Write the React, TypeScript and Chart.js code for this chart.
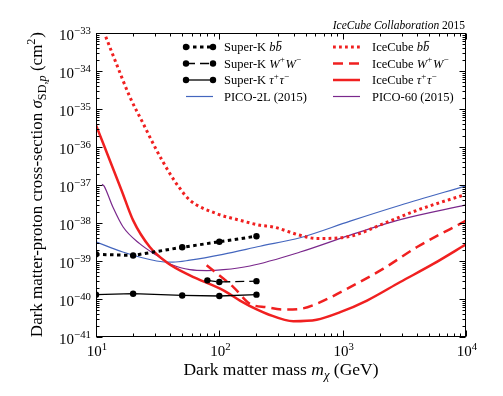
import React, { useEffect, useRef } from 'react';
import { Chart, registerables } from 'chart.js';

Chart.register(...registerables);

// ---------- data ----------
const xTickExps = [1, 2, 3, 4];
const yTickExps = [-33, -34, -35, -36, -37, -38, -39, -40, -41];

const skMass = [10, 20, 50, 100, 200];
const skBB = [1.5e-39, 1.4e-39, 2.3e-39, 3.2e-39, 4.5e-39];
const skTauTau = [1.3e-40, 1.38e-40, 1.24e-40, 1.2e-40, 1.3e-40];
const skWWMass = [80, 100, 200];
const skWW = [3.1e-40, 2.8e-40, 2.95e-40];

const icBBMass = [12, 14.6, 18.8, 24.1, 31, 39.7, 47.9, 57.7, 95, 147, 214, 274, 452, 616, 1150, 2140, 4010, 10000];
const icBB = [7.98e-34, 1.58e-34, 2.09e-35, 4.17e-36, 8.2e-37, 2.0e-37, 8.1e-38, 3.98e-38, 1.77e-38, 1.18e-38, 8.7e-39, 7.85e-39, 4.75e-39, 3.9e-39, 4.46e-39, 9.6e-39, 2.16e-38, 5.7e-38];

const icWWMass = [78.9, 130, 177, 242, 330, 452, 616, 1150, 2140, 4010, 10000];
const icWW = [7.7e-40, 2.06e-40, 7.5e-41, 6.1e-41, 5.3e-41, 5.5e-41, 7.5e-41, 2.06e-40, 6.3e-40, 2.33e-39, 1.15e-38];

const icTTMass = [10, 16.1, 20, 27.3, 37.3, 57.7, 108, 147, 201, 242, 398, 616, 955, 1575, 2930, 5470, 10000];
const icTT = [3.76e-36, 7.3e-38, 1.17e-38, 2.33e-39, 9.3e-40, 4.17e-40, 1.68e-40, 9.1e-41, 5.3e-41, 4.1e-41, 2.6e-41, 2.84e-41, 4.5e-41, 9.1e-41, 2.8e-40, 8.5e-40, 2.75e-39];

const pico2Mass = [10, 16.5, 31, 42, 57.7, 107, 214, 452, 1150, 2930, 10000];
const pico2 = [3.2e-39, 1.72e-39, 1.0e-39, 9.3e-40, 1.05e-39, 1.5e-39, 2.45e-39, 4.1e-39, 1.12e-38, 2.93e-38, 9.5e-38];

const pico60Mass = [11.2, 11.6, 13.7, 16.6, 22.6, 31, 42.3, 57.7, 78.9, 108, 177, 452, 1150, 2930, 10000];
const pico60 = [1.05e-37, 9.5e-38, 2.64e-38, 7.85e-39, 2.86e-39, 1.41e-39, 7.7e-40, 5.9e-40, 5.6e-40, 5.9e-40, 7.4e-40, 1.72e-39, 4.8e-39, 1.23e-38, 3.0e-38];

// ---------- styling ----------
const RED = 'rgb(240,32,32)';
const BLUE = 'rgb(68,102,190)';
const PURPLE = 'rgb(122,40,140)';
const FONT = '"Liberation Serif", "DejaVu Serif", serif';

type Seg = { t: string; i?: boolean; sup?: boolean; sub?: boolean; bar?: boolean };

function fontStr(size: number, italic?: boolean) {
  return `${italic ? 'italic ' : ''}${size}px ${FONT}`;
}
function segSize(s: Seg, size: number) {
  return s.sup || s.sub ? size * 0.72 : size;
}
function measureRich(ctx: CanvasRenderingContext2D, segs: Seg[], size: number) {
  let w = 0;
  for (const s of segs) {
    ctx.font = fontStr(segSize(s, size), s.i);
    w += ctx.measureText(s.t).width;
  }
  return w;
}
function drawRich(ctx: CanvasRenderingContext2D, segs: Seg[], x: number, y: number, size: number, align: 'left' | 'center' | 'right') {
  const w = measureRich(ctx, segs, size);
  let cx = align === 'center' ? x - w / 2 : align === 'right' ? x - w : x;
  ctx.textAlign = 'left';
  ctx.textBaseline = 'alphabetic';
  for (const s of segs) {
    const sz = segSize(s, size);
    ctx.font = fontStr(sz, s.i);
    const dy = s.sup ? -size * 0.42 : s.sub ? size * 0.22 : 0;
    ctx.fillText(s.t, cx, y + dy);
    const sw = ctx.measureText(s.t).width;
    if (s.bar) {
      ctx.save();
      ctx.lineWidth = 0.8;
      ctx.beginPath();
      ctx.moveTo(cx + sw * 0.25, y - sz * 0.78);
      ctx.lineTo(cx + sw * 1.0, y - sz * 0.78);
      ctx.stroke();
      ctx.restore();
    }
    cx += sw + (s.sup ? 0.8 : 0);
  }
}

const legendLeft: { label: Seg[]; kind: string }[] = [
  { label: [{ t: 'Super-K ' }, { t: 'b', i: true }, { t: 'b', i: true, bar: true }], kind: 'skbb' },
  { label: [{ t: 'Super-K ' }, { t: 'W', i: true }, { t: '+', sup: true }, { t: 'W', i: true }, { t: '−', sup: true }], kind: 'skww' },
  { label: [{ t: 'Super-K ' }, { t: 'τ', i: true }, { t: '+', sup: true }, { t: 'τ', i: true }, { t: '−', sup: true }], kind: 'sktt' },
  { label: [{ t: 'PICO-2L (2015)' }], kind: 'pico2' },
];
const legendRight: { label: Seg[]; kind: string }[] = [
  { label: [{ t: 'IceCube ' }, { t: 'b', i: true }, { t: 'b', i: true, bar: true }], kind: 'icbb' },
  { label: [{ t: 'IceCube ' }, { t: 'W', i: true }, { t: '+', sup: true }, { t: 'W', i: true }, { t: '−', sup: true }], kind: 'icww' },
  { label: [{ t: 'IceCube ' }, { t: 'τ', i: true }, { t: '+', sup: true }, { t: 'τ', i: true }, { t: '−', sup: true }], kind: 'ictt' },
  { label: [{ t: 'PICO-60 (2015)' }], kind: 'pico60' },
];

function lineStyle(kind: string): { color: string; width: number; dash: number[]; markers: boolean } {
  switch (kind) {
    case 'skbb': return { color: '#000', width: 3, dash: [3.5, 3.5], markers: true };
    case 'skww': return { color: '#000', width: 1.3, dash: [9, 5], markers: true };
    case 'sktt': return { color: '#000', width: 1.3, dash: [], markers: true };
    case 'pico2': return { color: BLUE, width: 1.2, dash: [], markers: false };
    case 'icbb': return { color: RED, width: 3, dash: [2.8, 3.2], markers: false };
    case 'icww': return { color: RED, width: 2.5, dash: [10, 6], markers: false };
    case 'ictt': return { color: RED, width: 2.5, dash: [], markers: false };
    default: return { color: PURPLE, width: 1.2, dash: [], markers: false };
  }
}

function drawLegendSample(ctx: CanvasRenderingContext2D, kind: string, x0: number, x1: number, y: number) {
  const st = lineStyle(kind);
  ctx.save();
  ctx.strokeStyle = st.color;
  ctx.lineWidth = st.width;
  ctx.setLineDash(st.dash);
  ctx.lineCap = 'butt';
  ctx.beginPath();
  ctx.moveTo(x0, y);
  ctx.lineTo(x1, y);
  ctx.stroke();
  ctx.setLineDash([]);
  if (st.markers) {
    ctx.fillStyle = '#000';
    for (const px of [x0, x1]) {
      ctx.beginPath();
      ctx.arc(px, y, 3.2, 0, Math.PI * 2);
      ctx.fill();
    }
  }
  ctx.restore();
}

const decorPlugin = {
  id: 'decor',
  afterDraw(chart: any) {
    const { ctx, chartArea: a, scales } = chart;
    const xs = scales.x;
    const ys = scales.y;
    ctx.save();
    ctx.strokeStyle = '#000';
    ctx.fillStyle = '#000';
    ctx.lineWidth = 1;
    // frame
    const L = Math.round(a.left) + 0.5, R = Math.round(a.right) - 0.5;
    const T = Math.round(a.top) + 0.5, B = Math.round(a.bottom) - 0.5;
    ctx.strokeRect(L, T, R - L, B - T);
    // ticks on all four sides, pointing inward
    ctx.beginPath();
    for (let k = 1; k <= 4; k++) {
      for (let m = 1; m <= 9; m++) {
        const v = m * Math.pow(10, k);
        if (v > 10000) break;
        const px = Math.round(xs.getPixelForValue(v)) + 0.5;
        const len = m === 1 ? 6 : 3;
        ctx.moveTo(px, B); ctx.lineTo(px, B - len);
        ctx.moveTo(px, T); ctx.lineTo(px, T + len);
      }
    }
    for (let k = -41; k <= -33; k++) {
      for (let m = 1; m <= 9; m++) {
        const v = m * Math.pow(10, k);
        if (k === -33 && m > 1) break;
        const py = Math.round(ys.getPixelForValue(v)) + 0.5;
        const len = m === 1 ? 6 : 3;
        ctx.moveTo(L, py); ctx.lineTo(L + len, py);
        ctx.moveTo(R, py); ctx.lineTo(R - len, py);
      }
    }
    ctx.stroke();

    // tick labels
    for (const e of xTickExps) {
      const px = xs.getPixelForValue(Math.pow(10, e));
      drawRich(ctx, [{ t: '10' }, { t: String(e), sup: true }], px + 1, 356, 15, 'center');
    }
    for (const e of yTickExps) {
      const py = ys.getPixelForValue(Math.pow(10, e));
      drawRich(ctx, [{ t: '10' }, { t: '−' + String(-e), sup: true }], 91, py + 6.8, 15, 'right');
    }

    // axis titles
    drawRich(ctx, [
      { t: 'Dark matter mass ' }, { t: 'm', i: true }, { t: 'χ', i: true, sub: true }, { t: ' (GeV)' },
    ], (a.left + a.right) / 2, 375, 17.5, 'center');

    ctx.save();
    ctx.translate(42, (a.top + a.bottom) / 2);
    ctx.rotate(-Math.PI / 2);
    drawRich(ctx, [
      { t: 'Dark matter-proton cross-section ' }, { t: 'σ', i: true }, { t: 'SD,', sub: true }, { t: 'p', i: true, sub: true },
      { t: ' (cm' }, { t: '2', sup: true }, { t: ')' },
    ], 0, 0, 17, 'center');
    ctx.restore();

    // top-right annotation
    drawRich(ctx, [{ t: 'IceCube Collaboration', i: true }, { t: ' 2015' }], 465, 28.5, 11.5, 'right');

    // legend
    const rows = [47, 63.5, 80, 96.5];
    legendLeft.forEach((it, i) => {
      drawLegendSample(ctx, it.kind, 186, 213, rows[i]);
      ctx.fillStyle = '#000';
      ctx.strokeStyle = '#000';
      drawRich(ctx, it.label, 224, rows[i] + 4.2, 12.5, 'left');
    });
    legendRight.forEach((it, i) => {
      drawLegendSample(ctx, it.kind, 333, 360, rows[i]);
      ctx.fillStyle = '#000';
      ctx.strokeStyle = '#000';
      drawRich(ctx, it.label, 372, rows[i] + 4.2, 12.5, 'left');
    });
    ctx.restore();
  },
};

function pts(xs: number[], ys: number[]) {
  return xs.map((x, i) => ({ x, y: ys[i] }));
}

export default function App() {
  const ref = useRef<HTMLCanvasElement | null>(null);
  useEffect(() => {
    if (!ref.current) return;
    const mk = (kind: string, data: any[], smooth: boolean) => {
      const st = lineStyle(kind);
      return {
        data,
        borderColor: st.color,
        backgroundColor: st.color,
        borderWidth: st.width,
        borderDash: st.dash,
        borderCapStyle: 'butt',
        pointRadius: st.markers ? 3.2 : 0,
        pointBackgroundColor: '#000',
        pointBorderWidth: 0,
        pointHoverRadius: 0,
        fill: false,
        cubicInterpolationMode: smooth ? 'monotone' : 'default',
        tension: 0,
        clip: 0,
      };
    };
    const chart = new Chart(ref.current, {
      type: 'line',
      data: {
        datasets: [
          mk('skbb', pts(skMass, skBB), false),
          mk('skww', pts(skWWMass, skWW), false),
          mk('sktt', pts(skMass, skTauTau), false),
          mk('icbb', pts(icBBMass, icBB), true),
          mk('icww', pts(icWWMass, icWW), true),
          mk('ictt', pts(icTTMass, icTT), true),
          mk('pico2', pts(pico2Mass, pico2), true),
          mk('pico60', pts(pico60Mass, pico60), true),
        ] as any,
      },
      options: {
        animation: false,
        responsive: false,
        events: [],
        layout: { padding: { left: 96, top: 33, right: 37, bottom: 59 } },
        plugins: { legend: { display: false }, tooltip: { enabled: false }, title: { display: false } },
        scales: {
          x: { type: 'logarithmic', min: 10, max: 10000, display: false },
          y: { type: 'logarithmic', min: 1e-41, max: 1e-33, display: false },
        },
      } as any,
      plugins: [decorPlugin],
    });
    return () => chart.destroy();
  }, []);
  return (
    <div style={{ position: 'fixed', left: 0, top: 0, width: 503, height: 396, background: '#fff' }}>
      <canvas ref={ref} width={503} height={396} style={{ width: 503, height: 396, display: 'block' }} />
    </div>
  );
}
